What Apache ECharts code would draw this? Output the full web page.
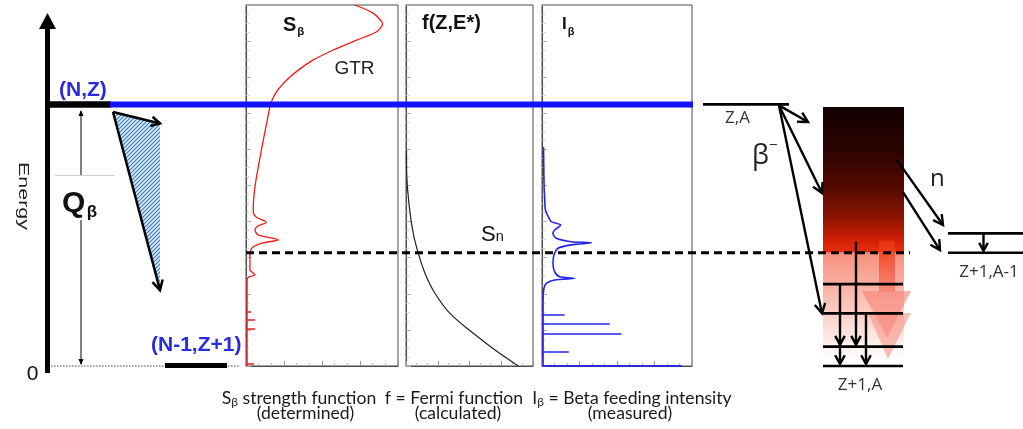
<!DOCTYPE html>
<html>
<head>
<meta charset="utf-8">
<script src="https://cdn.jsdelivr.net/npm/echarts@6/dist/echarts.min.js"></script>
<style>
html,body{margin:0;padding:0;background:#fff;}
#c{width:1023px;height:429px;}
</style>
</head>
<body>
<div id="c"></div>
<script>
// ---- energy scale (MeV-like units, shared by all panels and the level schemes) ----
const E_MAX = 13.8;
const Q_BETA = 10.0;
const S_N = 4.33;
const LEVELS_DAUGHTER = [3.13, 2.01, 0.74, 0];   // Z+1,A
const LEVELS_NEUTRON = [5.07, 4.33];             // Z+1,A-1

// ---- S_beta strength function (GTR + low-lying structure) ----
const S_ENERGY = [13.80, 13.48, 13.07, 12.78, 12.46, 12.08, 11.70, 11.31, 10.93, 10.49, 10.04, 9.40, 8.64, 7.62, 6.85, 6.09, 5.89, 5.70, 5.49, 5.35, 5.20, 5.01, 4.82, 4.70, 4.51, 4.17, 3.67, 3.56, 3.48, 3.42, 3.38, 3.29, 0.0];
const S_VALUE  = [71.7, 83.8, 89.9, 86.0, 72.8, 57.4, 44.3, 34.4, 26.8, 20.2, 16.3, 14.0, 11.4, 8.1, 5.9, 4.8, 4.8, 6.6, 13.2, 7.9, 5.9, 7.9, 21.3, 10.5, 3.9, 2.6, 2.6, 4.6, 5.9, 2.6, 1.3, 0.7, 0.7];
const S_LINE_ENERGY = [2.08, 1.76, 1.44, 0.08];
const S_LINE_VALUE  = [3.3, 5.9, 5.9, 5.3];

// ---- Fermi function ----
const F_ENERGY = [8.26, 7.37, 6.09, 5.07, 4.31, 3.54, 2.78, 2.01, 1.25, 0.61, 0.0];
const F_VALUE  = [0.4, 0.55, 2.6, 5.7, 9.7, 15.0, 22.8, 34.6, 53.0, 70.1, 88.4];

// ---- Beta feeding intensity ----
const I_ENERGY = [8.37, 7.11, 6.35, 5.96, 5.73, 5.52, 5.39, 5.20, 5.07, 4.88, 4.75, 4.71, 4.63, 4.50, 4.24, 3.93, 3.60, 3.41, 3.35, 3.29, 3.16, 2.97, 2.52, 0.0];
const I_VALUE  = [1.0, 1.3, 1.8, 2.3, 4.0, 6.2, 12.5, 8.5, 7.3, 9.5, 19.5, 32.9, 19.5, 10.7, 8.0, 7.3, 8.5, 11.8, 21.8, 8.5, 2.9, 1.3, 0.7, 0.7];
const I_LINE_ENERGY = [1.95, 1.61, 1.25, 0.55, 0.0];
const I_LINE_VALUE  = [15.1, 45.1, 52.9, 17.8, 93.1];

const zip = (xs, ys) => xs.map((x, i) => [x, ys[i]]);
const sticks = (es, vs) => es.map((e, i) => ({ coords: [[0, e], [vs[i], e]] }));

const chart = echarts.init(document.getElementById('c'), null, { renderer: 'canvas' });

const PANELS = [
  { left: 246, width: 152 },
  { left: 406, width: 127 },
  { left: 542, width: 150 }
];

const grids = PANELS.map(p => ({
  left: p.left, width: p.width, top: 5, bottom: 63,
  show: true, borderColor: '#4a4a4a', borderWidth: 1, backgroundColor: 'transparent'
}));
grids.push({ left: 0, right: 0, top: 5, bottom: 63, show: false });

const xAxes = PANELS.map((p, i) => ({
  type: 'value', gridIndex: i, min: 0, max: 100, interval: 25,
  axisLine: { show: true, onZero: false, lineStyle: { color: '#4a4a4a', width: 1 } },
  axisTick: { show: true, inside: true, length: 5, lineStyle: { color: '#999' } },
  minorTick: { show: true, splitNumber: 3, length: 3, lineStyle: { color: '#bbb' } },
  axisLabel: { show: false }, splitLine: { show: false }
}));
xAxes.push({ type: 'value', gridIndex: 3, min: 0, max: 1023, show: false });

const yAxes = PANELS.map((p, i) => ({
  type: 'value', gridIndex: i, min: 0, max: E_MAX, interval: 1.38,
  axisLine: { show: true, onZero: false, lineStyle: { color: '#4a4a4a', width: 1 } },
  axisTick: { show: true, inside: true, length: 5, lineStyle: { color: '#aaa' } },
  minorTick: { show: true, splitNumber: 4, length: 3, lineStyle: { color: '#c4c4c4' } },
  axisLabel: { show: false }, splitLine: { show: false }
}));
yAxes.push({ type: 'value', gridIndex: 3, min: 0, max: E_MAX, show: false });

const series = [
  { type: 'line', xAxisIndex: 0, yAxisIndex: 0, data: zip(S_VALUE, S_ENERGY), showSymbol: false, smooth: 0.25,
    lineStyle: { color: '#ee1c1c', width: 1.3 }, clip: true, z: 3 },
  { type: 'lines', coordinateSystem: 'cartesian2d', xAxisIndex: 0, yAxisIndex: 0, data: sticks(S_LINE_ENERGY, S_LINE_VALUE),
    lineStyle: { color: '#ee1c1c', width: 1.5, opacity: 1 }, z: 3 },
  { type: 'line', xAxisIndex: 1, yAxisIndex: 1, data: zip(F_VALUE, F_ENERGY), showSymbol: false, smooth: 0.35,
    lineStyle: { color: '#222', width: 1.2 }, clip: true, z: 3 },
  { type: 'line', xAxisIndex: 2, yAxisIndex: 2, data: zip(I_VALUE, I_ENERGY), showSymbol: false, smooth: 0.25,
    lineStyle: { color: '#2424e8', width: 1.6 }, clip: true, z: 3 },
  { type: 'lines', coordinateSystem: 'cartesian2d', xAxisIndex: 2, yAxisIndex: 2,
    data: sticks(I_LINE_ENERGY, I_LINE_VALUE).map((d, i) => i === I_LINE_ENERGY.length - 1 ? Object.assign(d, { lineStyle: { width: 3.2 } }) : d),
    lineStyle: { color: '#2424e8', width: 1.6, opacity: 1 }, z: 3 }
];

chart.setOption({
  animation: false,
  backgroundColor: '#fff',
  grid: grids, xAxis: xAxes, yAxis: yAxes, series: series
});

// ---- level schemes and annotations ----
const Y = e => {
  const v = chart.convertToPixel({ yAxisIndex: 3 }, e);
  return (typeof v === 'number' && isFinite(v)) ? v : 366 - e * 361 / E_MAX;
};

const G = [];
const SANS = '"Liberation Sans", Arial, sans-serif';
const HUM = '"Open Sans", sans-serif';
const CAP = 'Lato, "Open Sans", sans-serif';

function seg(x1, y1, x2, y2, style, z) {
  G.push({ type: 'line', silent: true, z: z || 50,
    shape: { x1, y1, x2, y2 },
    style: Object.assign({ stroke: '#000', lineWidth: 1 }, style) });
}
function vhead(x1, y1, x2, y2, len, w, z) {
  const a = Math.atan2(y2 - y1, x2 - x1), sp = 0.5;
  G.push({ type: 'polyline', silent: true, z: z || 50,
    shape: { points: [[x2 - len * Math.cos(a - sp), y2 - len * Math.sin(a - sp)], [x2, y2],
                      [x2 - len * Math.cos(a + sp), y2 - len * Math.sin(a + sp)]] },
    style: { stroke: '#000', lineWidth: w, fill: null, lineJoin: 'miter' } });
}
function arrow(x1, y1, x2, y2, w, len, z) {
  seg(x1, y1, x2, y2, { lineWidth: w }, z);
  vhead(x1, y1, x2, y2, len || 10, w, z);
}
function filledHead(x, y, dir, z) {
  // small solid head, dir = -1 up, +1 down
  G.push({ type: 'polygon', silent: true, z: z || 50,
    shape: { points: [[x, y], [x - 2.5, y - dir * 6], [x + 2.5, y - dir * 6]] },
    style: { fill: '#000' } });
}

const mctx = document.createElement('canvas').getContext('2d');
const fontOf = p => (p.w || 'normal') + ' ' + p.s + 'px ' + (p.f || SANS);
function rtext(parts, x, base, align, z) {
  const ws = parts.map(p => { mctx.font = fontOf(p); return mctx.measureText(p.t).width; });
  const total = ws.reduce((a, b) => a + b, 0) + parts.reduce((a, p) => a + (p.gap || 0), 0);
  let cx = align === 'center' ? x - total / 2 : (align === 'right' ? x - total : x);
  parts.forEach((p, i) => {
    cx += p.gap || 0;
    G.push({ type: 'text', silent: true, z: z || 60, x: cx, y: base + (p.dy || 0) - 0.31 * p.s,
      style: { text: p.t, font: fontOf(p), fill: p.c || '#111',
        textAlign: 'left', textVerticalAlign: 'middle', align: 'left', verticalAlign: 'middle' } });
    cx += ws[i];
  });
}

const yQ = Y(Q_BETA), y0 = Y(0), ySn = Y(S_N);

// energy axis
seg(47.5, y0 + 7, 47.5, 28, { lineWidth: 5 }, 40);
G.push({ type: 'polygon', silent: true, z: 40, shape: { points: [[39, 29], [47.5, 13], [56, 29]] }, style: { fill: '#000' } });
G.push({ type: 'text', silent: true, z: 60, x: 23, y: 196, rotation: -Math.PI / 2, scaleX: 1.43,
  style: { text: 'Energy', font: '15px ' + SANS, fill: '#222', textAlign: 'center', textVerticalAlign: 'middle', align: 'center', verticalAlign: 'middle' } });
rtext([{ t: '0', s: 21 }], 32.5, 381, 'center');

// parent level and Q value
seg(45, yQ, 111, yQ, { lineWidth: 6.5 }, 45);
seg(110, yQ, 693, yQ, { stroke: '#1212f4', lineWidth: 6 }, 90);
rtext([{ t: '(N,Z)', s: 21, w: 'bold', c: '#2a2ae0' }], 59, 97, 'left');
seg(55, 175.5, 115, 175.5, { stroke: '#cfcfcf', lineWidth: 1 }, 30);
seg(81, yQ + 7, 81, 175, { lineWidth: 1 }, 45);
filledHead(81, yQ + 5.5, -1, 45);
seg(81, 220, 81, y0 - 2, { lineWidth: 1 }, 45);
filledHead(81, y0 - 1, 1, 45);
rtext([{ t: 'Q', s: 30, w: 'bold' }, { t: 'β', s: 17, w: 'bold', dy: 4.5, gap: 1.5 }], 62, 213, 'left');

// daughter ground state
seg(48, y0, 240, y0, { stroke: '#444', lineWidth: 1, lineDash: [1.5, 1.5] }, 30);
seg(165, y0 - 0.5, 227, y0 - 0.5, { lineWidth: 5 }, 45);
rtext([{ t: '(N-1,Z+1)', s: 21, w: 'bold', c: '#2a2ae0' }], 151, 352, 'left');

// beta spectrum wedge
const hc = document.createElement('canvas');
hc.width = 4; hc.height = 4;
const hx = hc.getContext('2d');
hx.fillStyle = '#d9e9f6'; hx.fillRect(0, 0, 4, 4);
hx.strokeStyle = '#3d7cbc'; hx.lineWidth = 1.1;
hx.beginPath(); hx.moveTo(0, 4); hx.lineTo(4, 0); hx.moveTo(-1, 1); hx.lineTo(1, -1); hx.moveTo(3, 5); hx.lineTo(5, 3); hx.stroke();
const WEDGE_E = [Q_BETA - 0.29, Q_BETA - 0.73, 2.9];
const wTop = [113, Y(WEDGE_E[0])], wUp = [160, Y(WEDGE_E[1])], wLow = [160, Y(WEDGE_E[2])];
G.push({ type: 'polygon', silent: true, z: 35, shape: { points: [wTop, wUp, wLow] },
  style: { fill: { image: hc, repeat: 'repeat' } } });
arrow(wTop[0], wTop[1], wUp[0], wUp[1], 2.5, 10, 46);
arrow(wTop[0], wTop[1], wLow[0], wLow[1], 2.5, 11, 46);

// panel titles
rtext([{ t: 'S', s: 20, w: 'bold' }, { t: 'β', s: 11.5, w: 'bold', dy: 3.5, gap: 1 }], 283, 32, 'left');
rtext([{ t: 'GTR', s: 19, c: '#222' }], 354.5, 75, 'center');
rtext([{ t: 'f(Z,E*)', s: 20, w: 'bold' }], 422, 29.5, 'left');
rtext([{ t: 'I', s: 17, w: 'bold' }, { t: 'β', s: 11, w: 'bold', dy: 5, gap: 1 }], 562, 30, 'left');

// neutron separation energy
seg(246, ySn, 910, ySn, { lineWidth: 2.8, lineDash: [8, 5] }, 85);
rtext([{ t: 'S', s: 22, c: '#111' }, { t: 'n', s: 14.5, c: '#111' }], 481, 241.5, 'left');

// captions
const CS = 17.6;
const capL1 = [
  [[{ t: 'S', s: CS, f: CAP }, { t: 'β', s: 12, f: CAP, dy: 2.5 }, { t: ' strength function', s: CS, f: CAP }], 299],
  [[{ t: 'f = Fermi function', s: CS, f: CAP }], 454],
  [[{ t: 'I', s: CS, f: CAP }, { t: 'β', s: 12, f: CAP, dy: 2.5 }, { t: ' = Beta feeding intensity', s: CS, f: CAP }], 632]
];
capL1.forEach(c => rtext(c[0].map(p => Object.assign({ c: '#1a1a1a' }, p)), c[1], 403.5, 'center'));
[['(determined)', 305.5], ['(calculated)', 458], ['(measured)', 630]].forEach(c =>
  rtext([{ t: c[0], s: CS, f: CAP, c: '#1a1a1a' }], c[1], 418.5, 'center'));

// ---- decay scheme on the right ----
const BOX = { x1: 823, x2: 904, eTop: Q_BETA - 0.1 };
G.push({ type: 'rect', silent: true, z: 10,
  shape: { x: BOX.x1, y: Y(BOX.eTop), width: BOX.x2 - BOX.x1, height: ySn - Y(BOX.eTop) },
  style: { fill: { type: 'linear', x: 0, y: 0, x2: 0, y2: 1, colorStops: [
    { offset: 0, color: '#110000' }, { offset: 0.3, color: '#2c0400' }, { offset: 0.55, color: '#540a00' },
    { offset: 0.75, color: '#8a1300' }, { offset: 0.9, color: '#cc1e06' }, { offset: 1, color: '#ea2e0e' }] } } });
G.push({ type: 'rect', silent: true, z: 10,
  shape: { x: BOX.x1, y: ySn, width: BOX.x2 - BOX.x1, height: Y(0.2) - ySn },
  style: { fill: { type: 'linear', x: 0, y: 0, x2: 0, y2: 1, colorStops: [
    { offset: 0, color: '#f7907e' }, { offset: 0.35, color: '#fab6aa' }, { offset: 0.65, color: '#fdd9d2' },
    { offset: 0.85, color: '#fff1ee' }, { offset: 1, color: '#ffffff' }] } } });

// broad de-excitation arrow
G.push({ type: 'rect', silent: true, z: 11,
  shape: { x: 879, y: ySn - 12, width: 16, height: 292 - (ySn - 12) },
  style: { fill: { type: 'linear', x: 0, y: 0, x2: 0, y2: 1, colorStops: [
    { offset: 0, color: 'rgba(236,50,14,0.9)' }, { offset: 1, color: 'rgba(246,120,100,0.7)' }] } } });
G.push({ type: 'polygon', silent: true, z: 11, shape: { points: [[862, 291], [911, 291], [887, 338]] },
  style: { fill: 'rgba(246,128,116,0.6)' } });
G.push({ type: 'polygon', silent: true, z: 11, shape: { points: [[868, 313], [911, 313], [888, 359]] },
  style: { fill: 'rgba(246,140,128,0.55)' } });

// parent level Z,A
seg(703, yQ, 789, yQ, { lineWidth: 2.6 }, 50);
rtext([{ t: 'Z,A', s: 17, f: HUM, c: '#333' }], 737.5, 123, 'center');

// beta branches
const BETA_TARGET_X = [808, 822, 822];
const BETA_TARGET_E = [Q_BETA - 0.67, 6.61, LEVELS_DAUGHTER[1]];
BETA_TARGET_X.forEach((x, i) => arrow(779, yQ + 1, x, Y(BETA_TARGET_E[i]), 2.4, 11, 55));
rtext([{ t: 'β', s: 27, f: HUM, c: '#222' }, { t: '−', s: 15, f: HUM, c: '#222', dy: -15 }], 752, 165, 'left');

// daughter levels Z+1,A
LEVELS_DAUGHTER.forEach(e => seg(BOX.x1, Y(e), BOX.x2 - 1, Y(e), { lineWidth: 2.6 }, 50));
rtext([{ t: 'Z+1,A', s: 17, f: HUM, c: '#333' }], 860, 390, 'center');

// gamma cascades
const GAMMAS = [
  [856, 4.75, LEVELS_DAUGHTER[2]],
  [840, LEVELS_DAUGHTER[0], LEVELS_DAUGHTER[2]],
  [840, LEVELS_DAUGHTER[2], LEVELS_DAUGHTER[3]],
  [866, LEVELS_DAUGHTER[1], LEVELS_DAUGHTER[3]]
];
GAMMAS.forEach(g => arrow(g[0], Y(g[1]), g[0], Y(g[2]) - 2, 2.4, 10, 55));

// neutron emission
arrow(897, Y(7.87), 943, Y(5.39), 2.4, 11, 55);
arrow(903, Y(6.65), 940, Y(4.43), 2.4, 11, 55);
rtext([{ t: 'n', s: 24, f: HUM, c: '#222' }], 930, 187, 'left');

// levels Z+1,A-1
LEVELS_NEUTRON.forEach(e => seg(948, Y(e), 1023, Y(e), { lineWidth: 2.6 }, 50));
arrow(983.5, Y(LEVELS_NEUTRON[0]), 983.5, Y(LEVELS_NEUTRON[1]) - 2, 2.4, 9, 55);
rtext([{ t: 'Z+1,A-1', s: 17, f: HUM, c: '#333' }], 989, 277, 'center');

chart.setOption({ graphic: { elements: G } });
</script>
</body>
</html>
